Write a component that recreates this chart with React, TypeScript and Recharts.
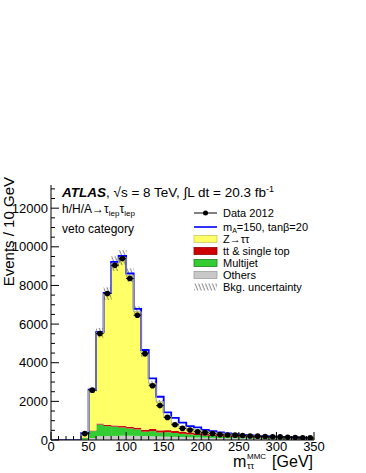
import { Bar, ComposedChart, ErrorBar, Line, Scatter, XAxis, YAxis } from "recharts"

// bin lower edges, 10 GeV wide
const BIN_LOW = [0, 10, 20, 30, 40, 50, 60, 70, 80, 90, 100, 110, 120, 130, 140, 150, 160, 170, 180, 190, 200, 210, 220, 230, 240, 250, 260, 270, 280, 290, 300, 310, 320, 330, 340]

const OTHERS = [0, 0, 0, 0, 20, 100, 200, 200, 210, 220, 220, 210, 200, 190, 180, 170, 160, 150, 140, 130, 120, 110, 100, 95, 90, 85, 80, 75, 70, 65, 60, 55, 50, 48, 45]
const MULTIJET = [0, 0, 0, 0, 80, 360, 600, 520, 480, 430, 380, 340, 230, 270, 210, 230, 200, 170, 150, 130, 110, 100, 90, 80, 70, 60, 55, 50, 45, 40, 38, 35, 32, 30, 28]
const TOP = [0, 0, 0, 0, 20, 30, 50, 60, 60, 70, 80, 90, 100, 110, 110, 110, 110, 100, 100, 90, 80, 75, 70, 60, 55, 50, 45, 40, 35, 30, 28, 25, 22, 20, 18]
const ZTT = [0, 0, 0, 0, 230, 2090, 4700, 6800, 8380, 8720, 7850, 6000, 3950, 2360, 1480, 700, 390, 270, 210, 170, 140, 115, 90, 75, 65, 55, 50, 45, 40, 35, 30, 28, 25, 22, 20]
const SIGNAL = [0, 0, 0, 0, 0, 20, 30, 30, 90, 90, 90, 150, 180, 260, 260, 220, 290, 210, 120, 130, 70, 60, 40, 30, 20, 15, 10, 8, 6, 5, 4, 3, 2, 2, 1]
const BKG_UNC = [0, 0, 0, 0, 30, 130, 250, 330, 380, 390, 350, 280, 190, 130, 90, 60, 40, 30, 25, 22, 20, 18, 16, 14, 12, 11, 10, 9, 8, 8, 7, 7, 6, 6, 5]
const DATA_2012 = [0, 0, 0, 0, 330, 2580, 5510, 7580, 9040, 9390, 8360, 6460, 4470, 2810, 1780, 1170, 790, 600, 520, 430, 380, 330, 280, 260, 250, 230, 210, 200, 180, 170, 160, 140, 130, 120, 110]

const X_TICKS = [0, 10, 20, 30, 40, 50, 60, 70, 80, 90, 100, 110, 120, 130, 140, 150, 160, 170, 180, 190, 200, 210, 220, 230, 240, 250, 260, 270, 280, 290, 300, 310, 320, 330, 340, 350]
const Y_TICKS = [0, 500, 1000, 1500, 2000, 2500, 3000, 3500, 4000, 4500, 5000, 5500, 6000, 6500, 7000, 7500, 8000, 8500, 9000, 9500, 10000, 10500, 11000, 11500, 12000, 12500, 13000]

const FONT = '"Liberation Sans", Arial, sans-serif'

const table = BIN_LOW.map((lo, i) => {
    const bkg = OTHERS[i] + MULTIJET[i] + TOP[i] + ZTT[i]
    return {
        x: lo + 5,
        others: OTHERS[i],
        multijet: MULTIJET[i],
        top: TOP[i],
        ztt: ZTT[i],
        bkgTot: bkg,
        sigTot: bkg + SIGNAL[i],
        unc: [bkg - BKG_UNC[i], bkg + BKG_UNC[i]],
    }
})

const points = BIN_LOW.map((lo, i) => ({ x: lo + 5, y: DATA_2012[i], ex: 5 })).filter(p => p.y > 0)

const LeftTick = ({ x, y, payload }: any) => {
    const major = payload.value % 2000 === 0
    return (
        <g>
            <line x1={x} x2={x + (major ? 8 : 4)} y1={y} y2={y} stroke="#000" />
            {major && payload.value <= 12000 && (
                <text x={x - 3} y={y + 4.5} textAnchor="end" fontSize={13} fontFamily={FONT} fill="#000">{payload.value}</text>
            )}
        </g>
    )
}

const RightTick = ({ x, y, payload }: any) => {
    const major = payload.value % 2000 === 0
    return <line x1={x} x2={x - (major ? 8 : 4)} y1={y} y2={y} stroke="#000" />
}

const BottomTick = ({ x, y, payload }: any) => {
    const major = payload.value % 50 === 0
    return (
        <g>
            <line x1={x} x2={x} y1={y} y2={y - (major ? 8 : 4)} stroke="#000" />
            {major && (
                <text x={x} y={y + 11} textAnchor="middle" fontSize={13} fontFamily={FONT} fill="#000">{payload.value}</text>
            )}
        </g>
    )
}

const TopTick = ({ x, y, payload }: any) => {
    const major = payload.value % 50 === 0
    return <line x1={x} x2={x} y1={y} y2={y + (major ? 8 : 4)} stroke="#000" />
}

const DataDot = ({ cx, cy }: any) => <circle cx={cx} cy={cy} r={2.8} fill="#000" />

const legendRows = [
    { y: 213, label: "Data 2012", kind: "data" },
    { y: 227, label: "sig", kind: "line" },
    { y: 239, label: "Z\u2192\u03c4\u03c4", kind: "box", fill: "#ffff66", stroke: "#c8c864" },
    { y: 251, label: "tt & single top", kind: "box", fill: "#cc0000", stroke: "#990000" },
    { y: 263, label: "Multijet", kind: "box", fill: "#33cc33", stroke: "#208020" },
    { y: 275, label: "Others", kind: "box", fill: "#c8c8c8", stroke: "#a0a0a0" },
    { y: 287, label: "Bkg. uncertainty", kind: "hatch" },
]

export default function App() {
    return (
        <div style={{ position: "absolute", left: 0, top: 0, width: 366, height: 473, background: "#fff" }}>
            <ComposedChart width={366} height={473} data={table}
                margin={{ top: 185, right: 52, bottom: 13, left: 0 }}
                barCategoryGap={0} barGap={0}>
                <defs>
                    <pattern id="hatch" width="3.2" height="6" patternUnits="userSpaceOnUse" patternTransform="rotate(-22)">
                        <line x1="1" y1="0" x2="1" y2="6" stroke="#222" strokeWidth="0.6" />
                    </pattern>
                </defs>
                <XAxis dataKey="x" type="number" domain={[0, 350]} ticks={X_TICKS} interval={0}
                    height={20} tickSize={0} tickMargin={0} tickLine={false} stroke="#000" tick={<BottomTick />} />
                <XAxis xAxisId="top" orientation="top" dataKey="x" type="number" domain={[0, 350]} ticks={X_TICKS} interval={0}
                    height={0} tickSize={0} tickMargin={0} tickLine={false} stroke="#000" tick={<TopTick />} />
                <YAxis type="number" domain={[0, 13200]} ticks={Y_TICKS} interval={0} allowDataOverflow
                    width={51} tickSize={0} tickMargin={0} tickLine={false} stroke="#000" tick={<LeftTick />} />
                <YAxis yAxisId="r" orientation="right" type="number" domain={[0, 13200]} ticks={Y_TICKS} interval={0} allowDataOverflow
                    width={0} tickSize={0} tickMargin={0} tickLine={false} stroke="#000" tick={<RightTick />} />
                <Line dataKey="sigTot" type="step" stroke="#0000ff" strokeWidth={1.8} dot={false} isAnimationActive={false} />
                <Bar dataKey="others" stackId="bkg" fill="#c8c8c8" isAnimationActive={false} />
                <Bar dataKey="multijet" stackId="bkg" fill="#33cc33" isAnimationActive={false} />
                <Bar dataKey="top" stackId="bkg" fill="#cc0000" isAnimationActive={false} />
                <Bar dataKey="ztt" stackId="bkg" fill="#ffff66" isAnimationActive={false} />
                <Line dataKey="bkgTot" type="step" stroke="#b4b48c" strokeWidth={1} dot={false} isAnimationActive={false} />
                <Bar dataKey="unc" xAxisId="top" fill="url(#hatch)" isAnimationActive={false} />
                <Scatter data={points} dataKey="y" shape={<DataDot />} isAnimationActive={false}>
                    <ErrorBar dataKey="ex" direction="x" width={0} stroke="#000" strokeWidth={1} />
                </Scatter>
            </ComposedChart>

            <svg width={366} height={473} style={{ position: "absolute", left: 0, top: 0, pointerEvents: "none" }} fontFamily={FONT}>
                <defs>
                    <pattern id="hatch2" width="3.2" height="6" patternUnits="userSpaceOnUse" patternTransform="rotate(-22)">
                        <line x1="1" y1="0" x2="1" y2="6" stroke="#222" strokeWidth="0.6" />
                    </pattern>
                </defs>
                <text x={62} y={197} fontSize={13.5} fill="#000">
                    <tspan fontWeight="bold" fontStyle="italic">ATLAS</tspan>
                    <tspan>, {"\u221a"}s = 8 TeV, {"\u222b"}L dt = 20.3 fb</tspan>
                    <tspan dy={-5} fontSize={9}>-1</tspan>
                </text>
                <text x={62} y={213} fontSize={12} fill="#000">
                    h/H/A{"\u2192\u03c4"}<tspan dy={3} fontSize={8}>lep</tspan>
                    <tspan dy={-3}>{"\u03c4"}</tspan><tspan dy={3} fontSize={8}>lep</tspan>
                </text>
                <text x={62} y={233} fontSize={12} fill="#000">veto category</text>

                {legendRows.map(r => (
                    <g key={r.label}>
                        {r.kind === "data" && (
                            <g>
                                <line x1={194} x2={217} y1={r.y} y2={r.y} stroke="#000" />
                                <circle cx={205.5} cy={r.y} r={2.5} fill="#000" />
                            </g>
                        )}
                        {r.kind === "line" && <line x1={194} x2={217} y1={r.y} y2={r.y} stroke="#0000ff" strokeWidth={1.6} />}
                        {r.kind === "box" && <rect x={194} y={r.y - 3.5} width={23} height={7} fill={r.fill} stroke={r.stroke} strokeWidth={0.8} />}
                        {r.kind === "hatch" && <rect x={194} y={r.y - 3.5} width={23} height={7} fill="url(#hatch2)" />}
                        {r.kind === "line" ? (
                            <text x={223} y={r.y + 4} fontSize={11} fill="#000">
                                m<tspan dy={2} fontSize={7}>A</tspan><tspan dy={-2}>=150, tan{"\u03b2"}=20</tspan>
                            </text>
                        ) : (
                            <text x={223} y={r.y + 4} fontSize={11} fill="#000">{r.label}</text>
                        )}
                    </g>
                ))}

                <text transform="rotate(-90)" x={-177} y={14} textAnchor="end" fontSize={15} fill="#000">Events / 10 GeV</text>

                <text x={233} y={467} fontSize={16} fill="#000">m</text>
                <text x={247} y={459} fontSize={8} fill="#000">MMC</text>
                <text x={247} y={469} fontSize={9} fill="#000">{"\u03c4\u03c4"}</text>
                <text x={313} y={467} textAnchor="end" fontSize={16} fill="#000">[GeV]</text>
            </svg>
        </div>
    )
}
